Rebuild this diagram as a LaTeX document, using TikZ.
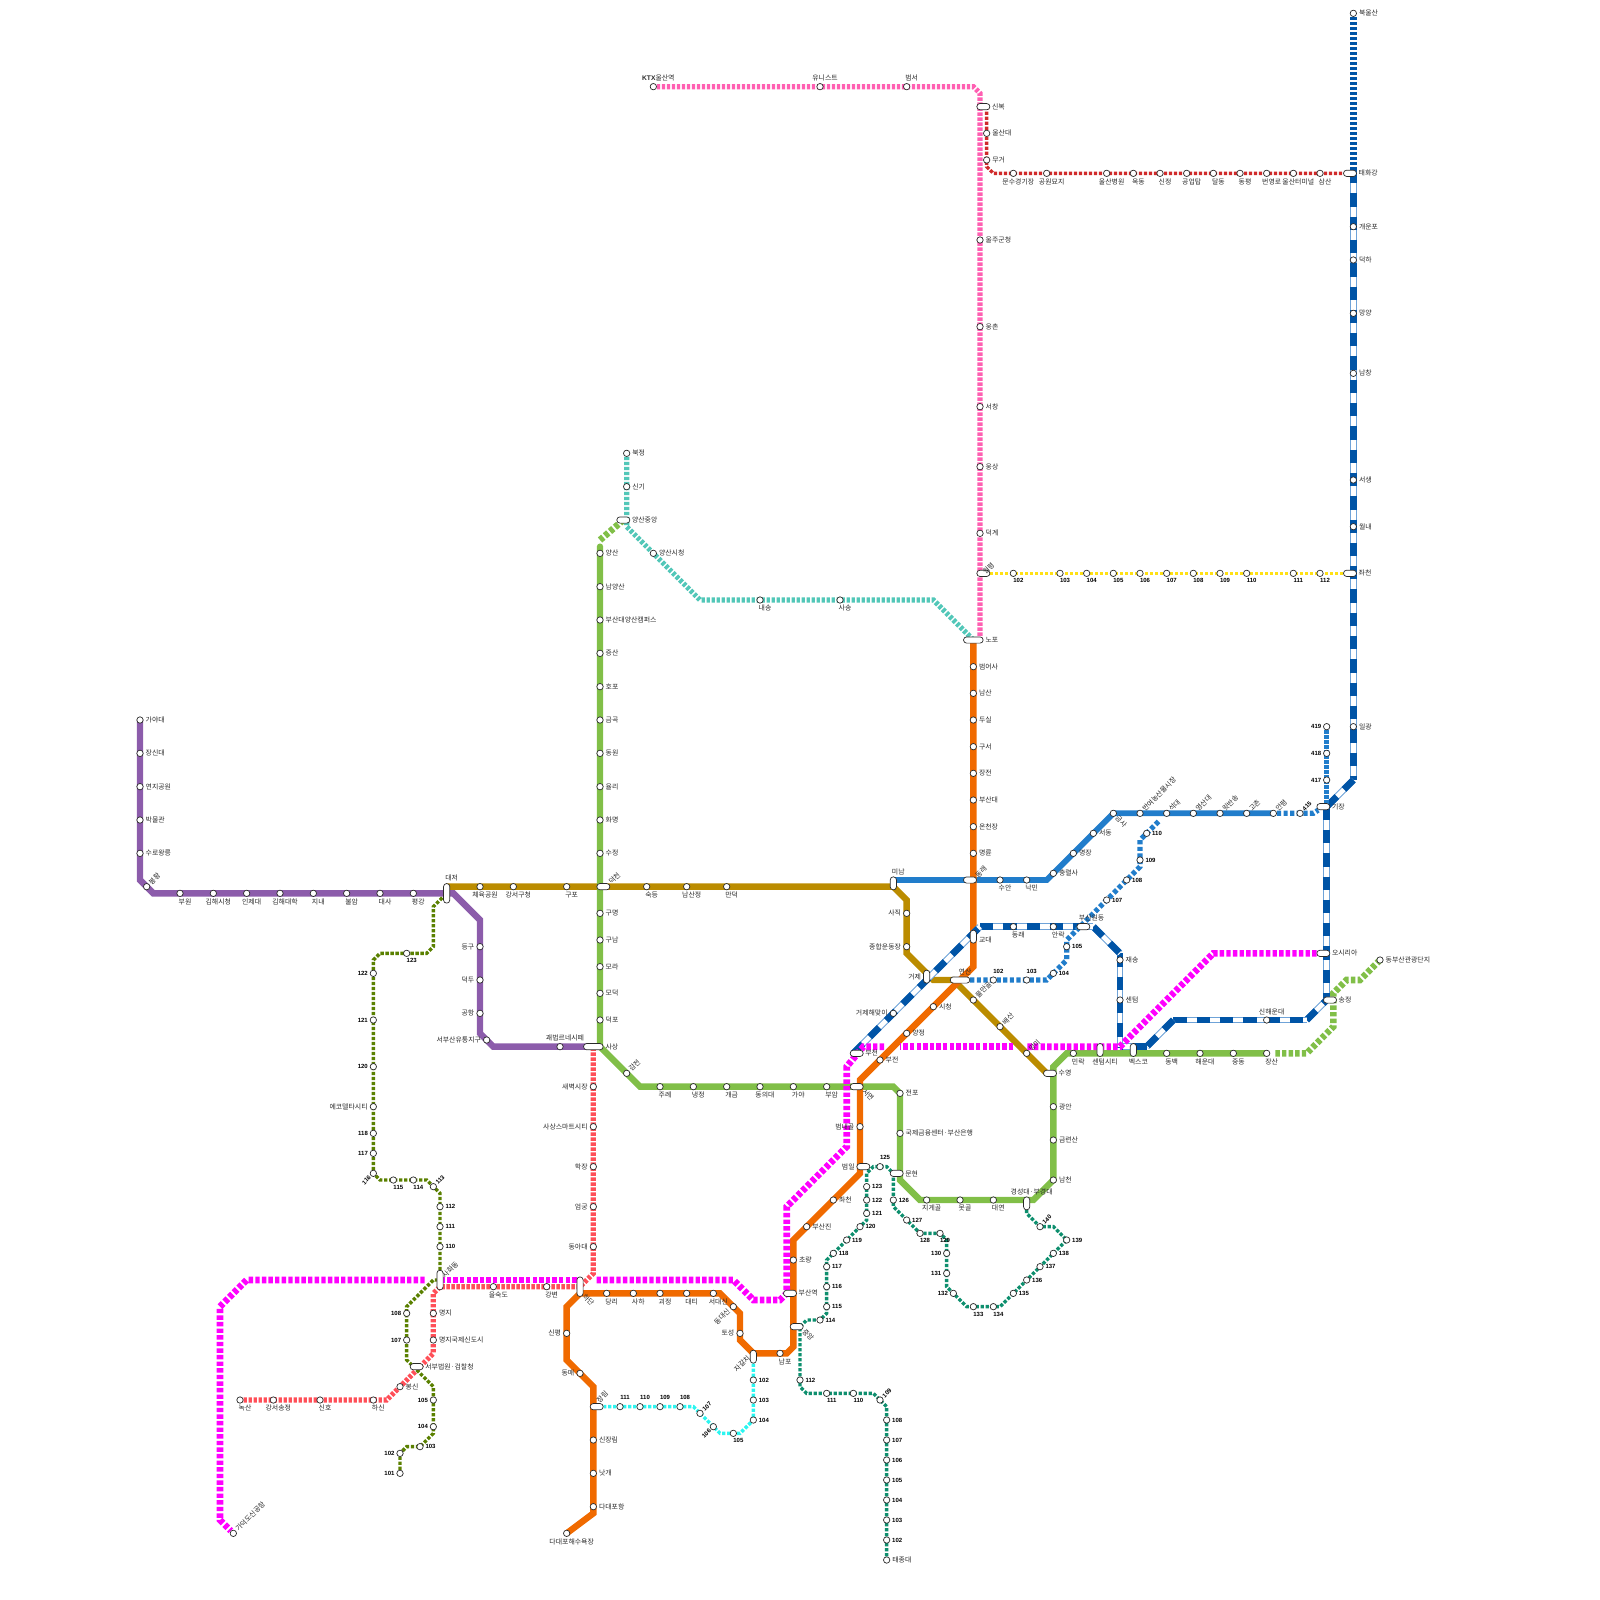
\documentclass[tikz,border=0pt]{standalone}
\usepackage{fontspec}
\setmainfont{Noto Sans CJK KR}
\newfontfamily\latinbold{Liberation Sans}[BoldFont=Liberation Sans Bold]
\usepackage{xcolor}
\usetikzlibrary{backgrounds}
\definecolor{line-orange}{HTML}{F06A00}
\definecolor{line-green}{HTML}{81BF48}
\definecolor{line-brown}{HTML}{BB8C00}
\definecolor{line-sky}{HTML}{217DCB}
\definecolor{line-purple}{HTML}{8C5CAB}
\definecolor{line-deep}{HTML}{0054A6}
\definecolor{line-edge}{HTML}{6FA3D8}
\definecolor{line-pink}{HTML}{FF5FB2}
\definecolor{line-red}{HTML}{D02A2A}
\definecolor{line-teal}{HTML}{52C7B8}
\definecolor{line-yellow}{HTML}{FFE014}
\definecolor{line-magenta}{HTML}{FF00FF}
\definecolor{line-coral}{HTML}{FF4F58}
\definecolor{line-olive}{HTML}{5A8000}
\definecolor{line-sea}{HTML}{0E8F6E}
\definecolor{line-cyan}{HTML}{2CF5F0}
\definecolor{jet}{HTML}{2A2A2A}
\newcommand{\numf}{\latinbold\bfseries\fontsize{6}{7}\selectfont}
\newcommand{\stations}[2]{%
  \foreach \x/\y/\sty/\lab [count=\i] in {#2} {
    \node[stn] (#1\i) at (\x,\y) {};
    \node[\sty] (#1\i t) at (#1\i) {\lab};
  }}
\tikzset{
  stn/.style={circle, draw=jet, fill=white, line width=0.7pt, inner sep=0pt, minimum size=6.4pt},
  pill/.style={rectangle, draw=jet, fill=white, line width=0.7pt, inner sep=0pt, rounded corners=3pt},
  ph/.style={pill, minimum width=13pt, minimum height=6.2pt},
  pH/.style={pill, minimum width=19.6pt, minimum height=6.2pt},
  pv/.style={pill, minimum width=6.2pt, minimum height=13pt},
  pV/.style={pill, minimum width=6.2pt, minimum height=19.6pt},
  txt/.style={inner sep=0pt, text=jet, font=\fontsize{6.9}{8}\selectfont},
  num/.style={inner sep=0pt, text=black, font=\numf},
  lr/.style={txt, anchor=west, xshift=5.5pt},
  lr2/.style={txt, anchor=west, xshift=8.5pt},
  lr3/.style={txt, anchor=west, xshift=12pt},
  lrd/.style={txt, anchor=west, xshift=5.5pt, yshift=-3.3pt},
  ll/.style={txt, anchor=east, xshift=-5.5pt},
  ll2/.style={txt, anchor=east, xshift=-8.5pt},
  lb/.style={txt, xshift=5pt, yshift=-8.3pt},
  lb2/.style={txt, xshift=5pt, yshift=-11.7pt},
  la/.style={txt, xshift=5pt, yshift=8.3pt},
  la2/.style={txt, xshift=5pt, yshift=11.7pt},
  la3/.style={txt, xshift=5pt, yshift=15pt},
  law/.style={txt, xshift=8.3pt, yshift=8.3pt},
  lne/.style={txt, xshift=3.3pt, yshift=3.3pt, rotate=45, anchor=west},
  lne0/.style={txt, xshift=.5pt, yshift=.5pt, rotate=45, anchor=west},
  lne2/.style={txt, xshift=6.5pt, yshift=3.5pt, rotate=45, anchor=west},
  lne3/.style={txt, xshift=1pt, yshift=5pt, rotate=45, anchor=west},
  lse/.style={txt, xshift=3.3pt, yshift=-3.3pt, rotate=-45, anchor=west},
  lse2/.style={txt, xshift=7pt, yshift=-3.6pt, rotate=-45, anchor=west},
  lse3/.style={txt, xshift=3.7pt, yshift=-8.7pt, rotate=-45, anchor=west},
  lsw/.style={txt, xshift=-4.5pt, yshift=-3pt, rotate=45, anchor=east},
  lsw2/.style={txt, xshift=-4.5pt, rotate=45, anchor=east},
  nr/.style={num, anchor=west, xshift=5.3pt},
  nl/.style={num, anchor=east, xshift=-5.3pt},
  nb/.style={num, xshift=5pt, yshift=-7.5pt},
  na/.style={num, xshift=5pt, yshift=9pt},
  nne/.style={num, xshift=3.3pt, yshift=3.3pt, rotate=45, anchor=west},
  nsw/.style={num, xshift=-3.3pt, yshift=-3.3pt, rotate=45, anchor=east},
  solidln/.style={line width=6.4pt},
  stripe/.style={draw=line-edge, line width=6.67pt,
    postaction={draw=white, line width=4.6pt},
    postaction={draw=line-deep, line width=6.67pt, dash pattern=on 13.3pt off 10pt}},
  fine/.style={line width=6.67pt, dash pattern=on 3.3pt off 1.7pt},
  wide/.style={line width=6.67pt, dash pattern=on 4.4pt off 2.2pt},
  mid/.style={line width=5.2pt, dash pattern=on 3.3pt off 1.7pt},
  midw/.style={line width=5.2pt, dash pattern=on 4.2pt off 2.4pt},
  thin/.style={line width=3.4pt, dash pattern=on 3.3pt off 1.7pt},
}
\begin{document}
\begin{tikzpicture}[x=6.6667pt, y=-6.6667pt]
  \useasboundingbox (0,0) rectangle (240,240);
  % interchange stations
  \foreach \nm/\x/\y/\p/\sty/\lab in {
      sinbok/147.5/16/ph/lr2/신복, taehwa/202.5/26/ph/lr2/태화강, wolpyeong/147.5/86/ph/lne0/월평,
      jwacheon/202.5/86/ph/lr2/좌천, nopo/146/96/pH/lr3/노포, yscenter/93.5/78/ph/lr2/양산중앙,
      gijang/198.5/121/ph/lr2/기장, dongnae/145.5/132/ph/lne2/동래, deokcheon/90.5/133/ph/lne2/덕천,
      wondong/162.5/139/ph/law/부산원동, osiria/198.5/143/ph/lr2/오시리아, yeonsan/144/147/pH/la/연산,
      songjeong/199.5/150/ph/lr2/송정, sasang/89/157/pH/lr3/사상, bujeon/128.5/158/ph/lr2/부전,
      suyeong/157.5/161/ph/lr2/수영, seomyeon/128.5/163/ph/lse2/서면, beomil/129.5/175/ph/ll2/범일,
      munhyeon/134.5/176/ph/lr2/문현, busanstn/118.5/194/ph/lr2/부산역, jungang/119.5/199/ph/lse2/중앙,
      seobu/62.5/205/ph/lr2/서부법원·검찰청, jangnim/89.5/211/ph/lne3/장림, minam/134/132.5/pv/la2/미남,
      daejeo/67/134/pV/la3/대저, geoje/139/146.5/pv/ll/거제, gyodae/146/140.5/pv/lrd/교대,
      centum/165/157.5/pv/lb2/센텀시티, bexco/170/157.5/pv/lb2/벡스코, kyungsung/154/180.5/pv/la2/경성대·부경대,
      sahwa/66/192/pV/lne/사화동, hadan/87/193/pV/lse3/하단, jagalchi/113/203.5/pv/lsw2/자갈치} {
    \node[\p] (\nm) at (\x,\y) {};
    \node[\sty] (\nm t) at (\nm) {\lab};
  }
  % stations line by line
  \stations{O}{146/100/lr/범어사, 146/104/lr/남산, 146/108/lr/두실, 146/112/lr/구서, 146/116/lr/장전,
    146/120/lr/부산대, 146/124/lr/온천장, 146/128/lr/명륜, 140/151/lr/시청, 136/155/lr/양정,
    132/159/lr/부전, 129/169/ll/범내골, 125/180/lr/좌천, 121/184/lr/부산진, 119/189/lr/초량,
    117/203/lb/남포, 111/200/ll/토성, 110/196/lsw/동대신, 107/194/lb/서대신, 103/194/lb/대티,
    99/194/lb/괴정, 95/194/lb/사하, 91/194/lb/당리, 85/200/ll/신평, 87/206/ll/동매,
    89/216/lr/신장림, 89/221/lr/낫개, 89/226/lr/다대포항, 85/230/lb/다대포해수욕장}
  \stations{G}{90/83/lr/양산, 90/88/lr/남양산, 90/93/lr/부산대양산캠퍼스, 90/98/lr/증산, 90/103/lr/호포,
    90/108/lr/금곡, 90/113/lr/동원, 90/118/lr/율리, 90/123/lr/화명, 90/128/lr/수정,
    90/137/lr/구명, 90/141/lr/구남, 90/145/lr/모라, 90/149/lr/모덕, 90/153/lr/덕포,
    94/161/lne/감전, 99/163/lb/주례, 104/163/lb/냉정, 109/163/lb/개금, 114/163/lb/동의대,
    119/163/lb/가야, 124/163/lb/부암, 135/164/lr/전포, 135/170/lr/국제금융센터·부산은행,
    139/180/lb/지게골, 144/180/lb/못골, 149/180/lb/대연, 158/177/lr/남천, 158/171/lr/금련산,
    158/166/lr/광안, 161/158/lb/민락, 175/158/lb/동백, 180/158/lb/해운대, 185/158/lb/중동,
    190/158/lb/장산, 207/144/lr/동부산관광단지}
  \stations{P}{21/108/lr/가야대, 21/113/lr/장신대, 21/118/lr/연지공원, 21/123/lr/박물관, 21/128/lr/수로왕릉,
    22/133/lne/봉황, 27/134/lb/부원, 32/134/lb/김해시청, 37/134/lb/인제대, 42/134/lb/김해대학,
    47/134/lb/지내, 52/134/lb/불암, 57/134/lb/대사, 62/134/lb/평강, 72/142/ll/등구,
    72/147/ll/덕두, 72/152/ll/공항, 73/156/ll/서부산유통지구, 84/157/la/괘법르네시떼}
  \stations{B}{72/133/lb/체육공원, 77/133/lb/강서구청, 85/133/lb/구포, 97/133/lb/숙등, 103/133/lb/남산정,
    109/133/lb/만덕, 136/137/ll/사직, 136/142/ll/종합운동장, 146/150/lne/물만골, 150/154/lne/배산,
    154/158/lne/망미}
  \stations{S}{150/132/lb/수안, 154/132/lb/낙민, 158/131/lr/충렬사, 161/128/lr/명장, 164/125/lr/서동,
    167/122/lse/금사, 171/122/lne/반여농산물시장, 175/122/lne/석대, 179/122/lne/영산대, 183/122/lne/윗반송,
    187/122/lne/고촌, 191/122/lne/안평, 195/122/nne/415, 199/117/nl/417, 199/113/nl/418, 199/109/nl/419}
  \stations{D}{149/147/na/102, 154/147/na/103, 158/146/nr/104, 160/142/nr/105, 166/135/nr/107,
    169/132/nr/108, 171/129/nr/109, 172/125/nr/110}
  \stations{N}{203/2/lr/북울산, 203/34/lr/개운포, 203/39/lr/덕하, 203/47/lr/망양, 203/56/lr/남창,
    203/72/lr/서생, 203/79/lr/월내, 203/109/lr/일광, 190/153/la/신해운대, 168/144/lr/재송,
    168/150/lr/센텀, 158/139/lb/안락, 152/139/lb/동래, 134/152/ll/거제해맞이}
  \stations{K}{98/13/la/{\numf\fontsize{6.7}{7}\selectfont KTX}울산역, 123/13/la/유니스트, 136/13/la/범서, 147/36/lr/울주군청,
    147/49/lr/웅촌, 147/61/lr/서창, 147/70/lr/웅상, 147/80/lr/덕계}
  \stations{R}{148/20/lr/울산대, 148/24/lr/무거, 152/26/lb/문수경기장, 157/26/lb/공원묘지, 166/26/lb/울산병원,
    170/26/lb/옥동, 174/26/lb/신정, 178/26/lb/공업탑, 182/26/lb/달동, 186/26/lb/동평,
    190/26/lb/번영로, 194/26/lb/울산터미널, 198/26/lb/삼산}
  \stations{Y}{152/86/nb/102, 159/86/nb/103, 163/86/nb/104, 167/86/nb/105, 171/86/nb/106, 175/86/nb/107,
    179/86/nb/108, 183/86/nb/109, 187/86/nb/110, 194/86/nb/111, 198/86/nb/112}
  \stations{T}{94/68/lr/북정, 94/73/lr/신기, 98/83/lr/양산시청, 114/90/lb/내송, 126/90/lb/사송}
  \stations{M}{35/230/lne/가덕도신공항}
  \stations{C}{36/210/lb/녹산, 41/210/lb/강서송정, 48/210/lb/신호, 56/210/lb/하신, 60/208/lr/봉신,
    65/201/lr/명지국제신도시, 65/197/lr/명지, 74/193/lb/을숙도, 82/193/lb/강변, 89/187/ll/동아대,
    89/181/ll/엄궁, 89/175/ll/학장, 89/169/ll/사상스마트시티, 89/163/ll/새벽시장}
  \stations{V}{60/221/nl/101, 60/218/nl/102, 63/217/nr/103, 65/214/nl/104, 65/210/nl/105,
    61/201/nl/107, 61/197/nl/108, 66/187/nr/110, 66/184/nr/111, 66/181/nr/112, 65/178/nne/113,
    62/177/nb/114, 59/177/nb/115, 56/176/nsw/116, 56/173/nl/117, 56/170/nl/118, 56/166/ll/에코델타시티,
    56/160/nl/120, 56/153/nl/121, 56/146/nl/122, 61/143/nb/123}
  \stations{W}{133/234/lr/태종대, 133/231/nr/102, 133/228/nr/103, 133/225/nr/104, 133/222/nr/105,
    133/219/nr/106, 133/216/nr/107, 133/213/nr/108, 132/210/nne/109, 128/209/nb/110, 124/209/nb/111,
    120/207/nr/112, 123/198/nr/114, 124/196/nr/115, 124/193/nr/116, 124/190/nr/117, 125/188/nr/118,
    127/186/nr/119, 129/184/nr/120, 130/182/nr/121, 130/180/nr/122, 130/178/nr/123, 132/175/na/125,
    134/180/nr/126, 136/183/nr/127, 138/185/nb/128, 141/185/nb/129, 142/188/nl/130, 142/191/nl/131,
    143/194/nl/132, 146/196/nb/133, 149/196/nb/134, 152/194/nr/135, 154/192/nr/136, 156/190/nr/137,
    158/188/nr/138, 160/186/nr/139, 156/184/nne/140}
  \stations{A}{113/207/nr/102, 113/210/nr/103, 113/213/nr/104, 110/215/nb/105, 107/214/nsw/106,
    105/212/nne/107, 102/211/na/108, 99/211/na/109, 96/211/na/110, 93/211/na/111}
  % bends of the striped line
  \foreach \n/\x/\y in {1/203/25.5, 2/203/117, 3/199/121, 4/199/150, 5/196/153, 6/176/153,
      7/172/157, 8/168/157, 9/168/143, 10/164/139, 11/147/139, 12/128/158} {
    \coordinate (d\n) at (\x,\y);
  }
  \begin{scope}[on background layer]
    \draw[line width=5.8pt, line-sky] (minam.center |- S1) -- (157,132) -- (167,122) -- (S12.center);
    \draw[solidln, line-brown] (daejeo.center |- B1) -- (134,133) -- (136,135) -- (136,143)
        -- (140,147) -- (143,147) -- (157,161);
    \draw[solidln, line-purple] (P1.center) -- (21,132) -- (23,134) -- (68,134) -- (72,138)
        -- (72,155) -- (74,157) -- (sasang.center);
    \draw[solidln, line-green, line cap=round] (90,82) -- (90,157) -- (96,163) -- (134,163) -- (135,164)
        -- (135,177) -- (138,180) -- (155,180) -- (158,177) -- (158,160) -- (160,158) -- (G35.center);
    \draw[wide, line-green] (G36.center) -- (204,147) -- (202,147) -- (200,149) -- (200,154)
        -- (196,158) -- (191,158);
    \draw[wide, line-green] (yscenter.center) -- (90,81);
    \draw[solidln, line-orange] (nopo.center) -- (146,145) -- (129,162) -- (129,176) -- (119,186)
        -- (119,202) -- (118,203) -- (113,203) -- (111,201) -- (111,197) -- (108,194) -- (87,194)
        -- (85,196) -- (85,204) -- (89,208) -- (89,227) -- (O29.center);
    \draw[fine, line-deep] (N1) -- (d1);
    \foreach \a/\b in {1/2, 2/3, 3/4, 5/4, 6/5, 6/7, 7/8, 9/8, 10/9, 11/10, 12/11} {
      \draw[stripe] (d\a) -- (d\b);
    }
    \draw[midw, line-sky] (S12) -- (197,122) -- (gijang);
    \draw[mid, line-sky] (S16) -- (gijang.center -| S16);
    \draw[midw, line-sky] (yeonsan) -- (157,147) -- (160,144) -- (160,141) -- (171,130) -- (171,126) -- (174,123);
    \draw[mid, line-pink] (K1) -- (146,13) -- (147,14) -- (147,96);
    \draw[thin, line-red] (sinbok -| R1) -- (148,25) -- (149,26) -- (taehwa);
    \draw[thin, line-yellow] (wolpyeong) -- (jwacheon);
    \draw[mid, line-teal] (T1) -- (94,79) -- (105,90) -- (140,90) -- (nopo.center);
    \draw[mid, line-coral] (C1) -- (58,210) -- (65,203) -- (65,194) -- (66,193) -- (87,193)
        -- (89,191) -- (89,157);
    \draw[thin, line-olive] (V1) -- (60,218) -- (61,217) -- (63,217) -- (65,215) -- (65,208)
        -- (61,204) -- (61,196) -- (65,192) -- (66,192) -- (66,179) -- (64,177) -- (57,177)
        -- (56,176) -- (56,144) -- (57,143) -- (64,143) -- (65,142) -- (65,136) -- (66,135) -- (daejeo);
    \draw[thin, line-sea] (W1) -- (133,211) -- (131,209) -- (121,209) -- (120,208) -- (120,199)
        -- (121,198) -- (123,198) -- (124,197) -- (124,189) -- (130,183) -- (130,176) -- (131,175)
        -- (133,175) -- (134,176) -- (134,181) -- (138,185) -- (141,185) -- (142,186) -- (142,193)
        -- (145,196) -- (150,196) -- (160,186) -- (158,184) -- (156,184) -- (154,182) -- (kyungsung);
    \draw[thin, line-cyan] (jagalchi) -- (113,213) -- (111,215) -- (108,215) -- (104,211) -- (jangnim);
    \draw[wide, line-magenta] (osiria) -- (182,143) -- (168,157) -- (154,157);
    \draw[wide, line-magenta] (152,157) -- (135,157);
    \draw[wide, line-magenta] (132.6,157) -- (129.5,157) -- (127,160) -- (127,172) -- (118,181) -- (118,194)
        -- (117,195) -- (113,195) -- (110,192) -- (89.5,192);
    \draw[wide, line-magenta] (86.5,192) -- (66.5,192);
    \draw[wide, line-magenta] (63.7,192) -- (37,192) -- (33,196) -- (33,228) -- (M1);
  \end{scope}
\end{tikzpicture}
\end{document}
